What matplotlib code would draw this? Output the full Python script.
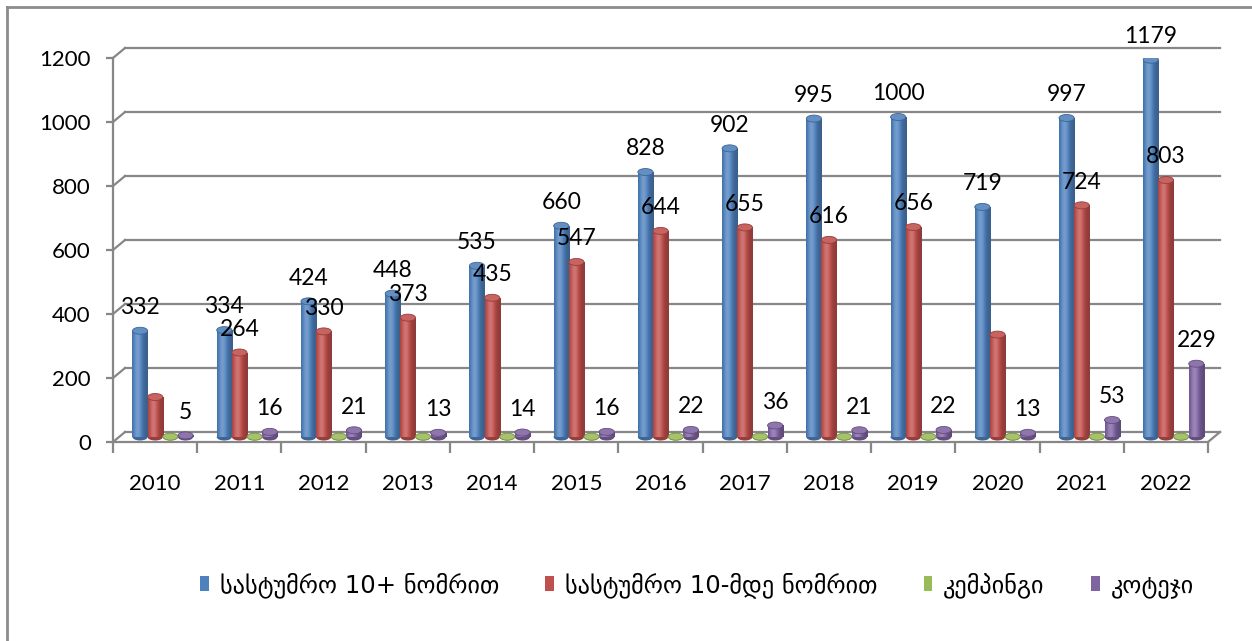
import matplotlib
matplotlib.use('Agg')
import matplotlib.pyplot as plt
import matplotlib.transforms as mtransforms
from matplotlib.patches import Rectangle, Ellipse, Patch
from matplotlib.lines import Line2D
import numpy as np

years = ['2010', '2011', '2012', '2013', '2014', '2015', '2016',
         '2017', '2018', '2019', '2020', '2021', '2022']
hotels_10plus = [332, 334, 424, 448, 535, 660, 828, 902, 995, 1000, 719, 997, 1179]
hotels_under10 = [125, 264, 330, 373, 435, 547, 644, 655, 616, 656, 320, 724, 803]
camping = [1, 1, 1, 1, 1, 1, 1, 1, 1, 1, 1, 1, 1]
cottages = [5, 16, 21, 13, 14, 16, 22, 36, 21, 22, 13, 53, 229]
under10_label_shown = [False, True, True, True, True, True, True,
                       True, True, True, False, True, True]
series_names = ['სასტუმრო 10+ ნომრით', 'სასტუმრო 10-მდე ნომრით', 'კემპინგი', 'კოტეჯი']
colors = ['#4F81BD', '#C0504D', '#9BBB59', '#8064A2']
yticks = [0, 200, 400, 600, 800, 1000, 1200]

W, H, DPI = 1252, 641, 100
fig = plt.figure(figsize=(W / DPI, H / DPI), dpi=DPI)
fig.patch.set_facecolor('white')

x0, x1 = 113, 1208
y0, y1 = 442, 58
ax = fig.add_axes([x0 / W, (H - y0) / H, (x1 - x0) / W, (y0 - y1) / H])
ax.set_xlim(0, len(years))
ax.set_ylim(0, 1200)
ax.patch.set_alpha(0)

font_num = ['Lato', 'DejaVu Sans']
gray = '#878787'

back = mtransforms.ScaledTranslation(12 / DPI, 10 / DPI, fig.dpi_scale_trans)
mid = mtransforms.ScaledTranslation(6 / DPI, 5 / DPI, fig.dpi_scale_trans)
t_back = ax.transData + back
t_mid = ax.transData + mid

n = len(years)
for v in yticks:
    ax.plot([0, n], [v, v], color=gray, lw=1.6, transform=t_back, clip_on=False, zorder=1)
    p0 = ax.transData.transform((0, v))
    p1 = t_back.transform((0, v))
    fig.add_artist(Line2D([p0[0] / W, p1[0] / W], [p0[1] / H, p1[1] / H],
                          color=gray, lw=1.6, transform=fig.transFigure, zorder=1))
p0 = ax.transData.transform((n, 0))
p1 = t_back.transform((n, 0))
fig.add_artist(Line2D([p0[0] / W, p1[0] / W], [p0[1] / H, p1[1] / H],
                      color=gray, lw=1.6, transform=fig.transFigure, zorder=1))

for s in ['top', 'right']:
    ax.spines[s].set_visible(False)
for s in ['left', 'bottom']:
    ax.spines[s].set_color(gray)
    ax.spines[s].set_linewidth(1.6)

ax.set_yticks(yticks)
ax.set_yticklabels([str(v) for v in yticks], fontsize=16, family=font_num)
ax.tick_params(axis='y', length=5, width=1.6, color=gray, pad=11)

ax.set_xticks(np.arange(n) + 0.5)
ax.set_xticklabels(years, fontsize=16, family=font_num)
ax.set_xticks(np.arange(n + 1), minor=True)
ax.tick_params(axis='x', which='major', length=0, pad=23)
ax.tick_params(axis='x', which='minor', length=8, width=1.6, color=gray)

bw = 0.18
offsets = [0.25, 0.43, 0.61, 0.79]
series = [hotels_10plus, hotels_under10, camping, cottages]
px_per_unit = (y0 - y1) / 1200.0
ell_h = 7 / px_per_unit
tgrad = np.linspace(0, 1, 64)
shade = 0.74 + 0.5 * np.exp(-((tgrad - 0.35) / 0.3) ** 2)


def shaded(c, f):
    rgb = np.array(matplotlib.colors.to_rgb(c))
    out = []
    for k in f:
        if k <= 1:
            out.append(rgb * k)
        else:
            out.append(rgb + (1 - rgb) * (k - 1) * 0.9)
    return np.clip(np.array(out), 0, 1)


for si, (vals, col) in enumerate(zip(series, colors)):
    grad = shaded(col, shade)[np.newaxis, :, :]
    top_col = shaded(col, [1.12])[0]
    edge_col = shaded(col, [0.78])[0]
    for i, v in enumerate(vals):
        xl = i + offsets[si] - bw / 2
        rect = Rectangle((xl, 0), bw, v, transform=t_mid, facecolor='none',
                         edgecolor='none', zorder=3)
        ax.add_patch(rect)
        im = ax.imshow(grad, extent=(xl, xl + bw, 0, v), aspect='auto',
                       transform=t_mid, zorder=3, interpolation='bilinear')
        im.set_clip_path(rect)
        eb = Ellipse((xl + bw / 2, 0), bw, ell_h, transform=t_mid,
                     facecolor=edge_col, edgecolor='none', zorder=2.9)
        ax.add_patch(eb)
        et = Ellipse((xl + bw / 2, v), bw, ell_h, transform=t_mid,
                     facecolor=top_col, edgecolor=edge_col, lw=0.6, zorder=3.1)
        ax.add_patch(et)

ax.set_xlim(0, n)
ax.set_ylim(0, 1200)


def label(i, si, v):
    ax.annotate(str(v), xy=(i + offsets[si], v), xycoords=t_mid,
                xytext=(0, 12), textcoords='offset points', ha='center',
                va='baseline', fontsize=16.5, family=font_num, zorder=5,
                annotation_clip=False)


for i in range(n):
    label(i, 0, hotels_10plus[i])
    if under10_label_shown[i]:
        label(i, 1, hotels_under10[i])
    label(i, 3, cottages[i])

handles = [Patch(facecolor=c, edgecolor='none') for c in colors]
fig.legend(handles, series_names, loc='center', bbox_to_anchor=(697 / W, (H - 585) / H),
           ncol=4, frameon=False, handlelength=0.36, handleheight=0.62,
           handletextpad=0.45, columnspacing=1.9,
           prop={'family': ['DejaVu Sans'], 'size': 17.5})

fig.add_artist(Line2D([7 / W, 7 / W], [0, (H - 7) / H], color='#8c8c8c', lw=2,
                      transform=fig.transFigure))
fig.add_artist(Line2D([7 / W, 1], [(H - 7) / H, (H - 7) / H], color='#8c8c8c', lw=2,
                      transform=fig.transFigure))

fig.savefig('out.png', dpi=DPI)
